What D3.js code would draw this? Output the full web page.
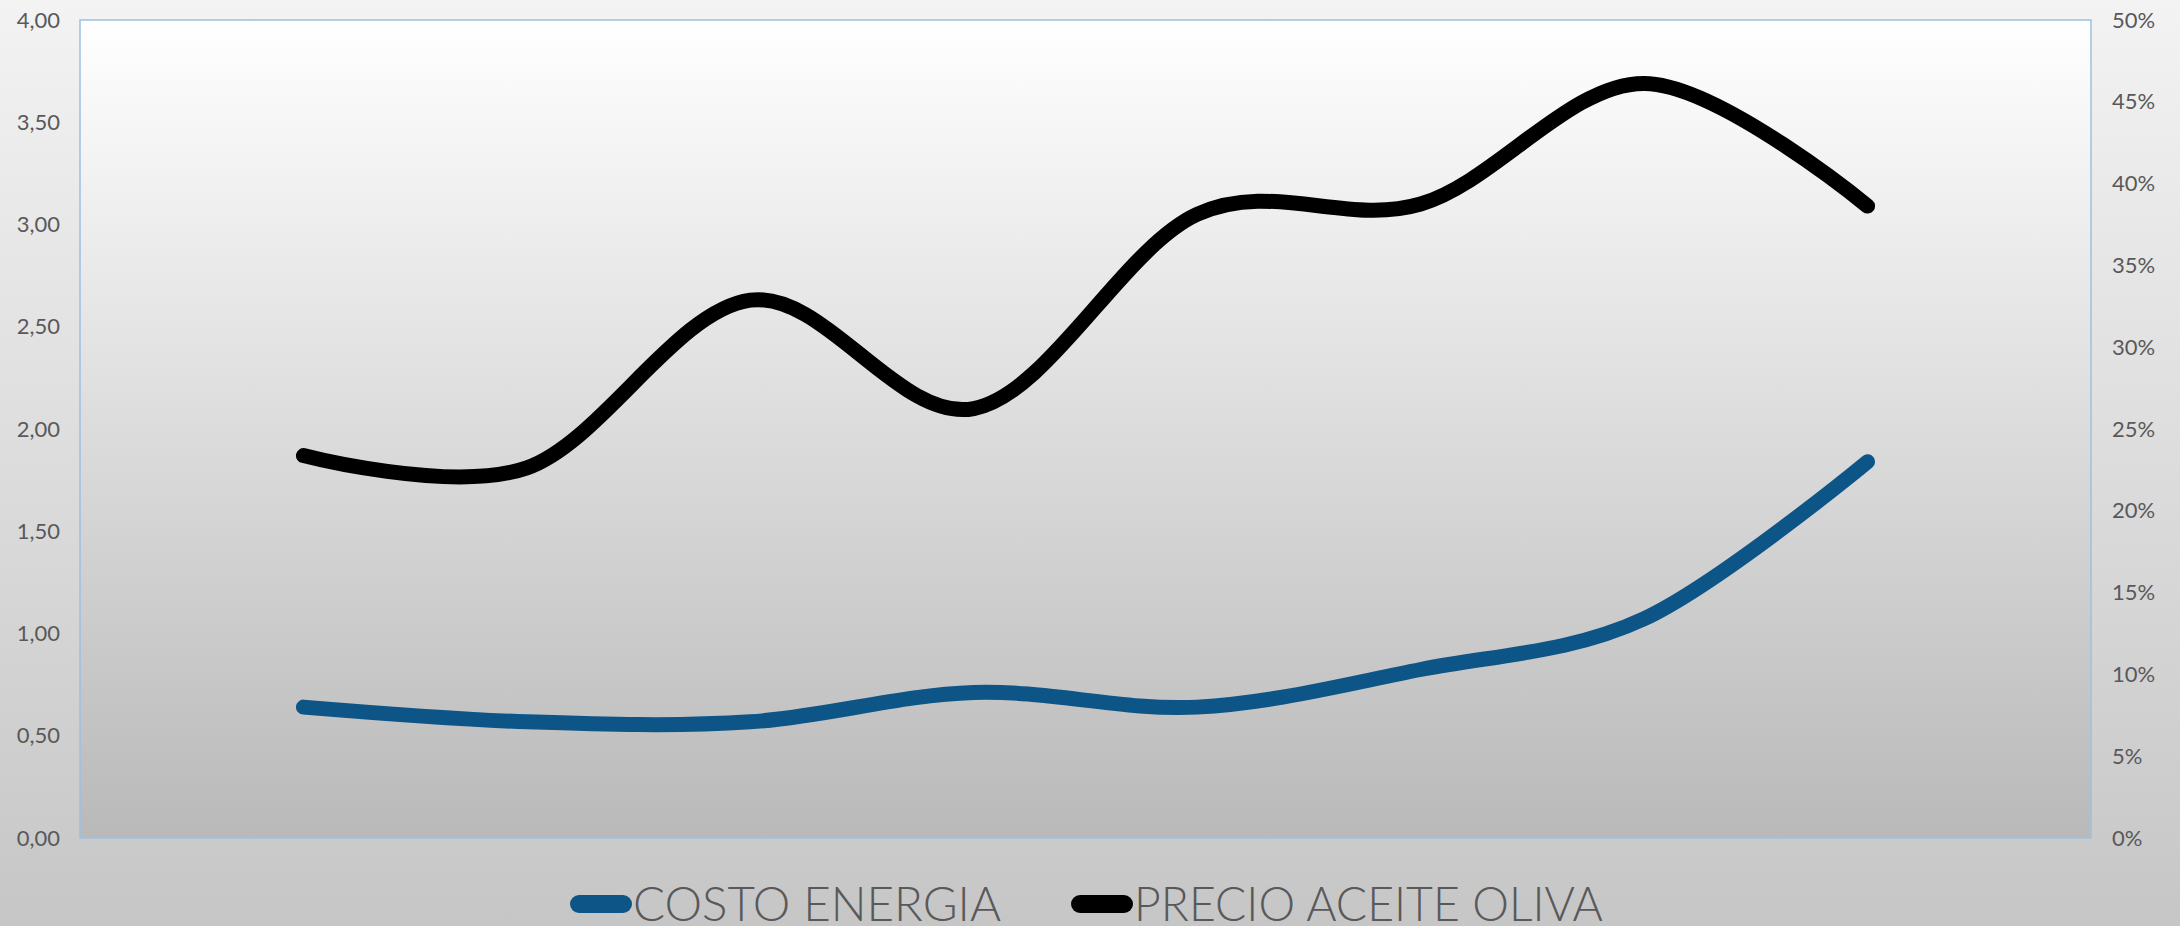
<!DOCTYPE html>
<html>
<head>
<meta charset="utf-8">
<script src="https://cdn.jsdelivr.net/npm/d3@7"></script>
<style>
  body { margin: 0; padding: 0; overflow: hidden; }
  svg { display: block; }
</style>
</head>
<body>
<svg></svg>
<script>
// categories (no labels shown on the chart)
const categories = ['1', '2', '3', '4', '5', '6', '7', '8']
// precio aceite oliva, left axis
const precioAceite = [1.87, 1.81, 2.63, 2.10, 3.05, 3.10, 3.69, 3.09]
// costo energia, right axis (%)
const costoEnergia = [8.0, 7.1, 7.1, 8.9, 8.0, 10.3, 13.4, 23.0]
const leftTicks = [0, 0.5, 1, 1.5, 2, 2.5, 3, 3.5, 4]
const rightTicks = [0, 5, 10, 15, 20, 25, 30, 35, 40, 45, 50]
const seriesNames = ['COSTO ENERGIA', 'PRECIO ACEITE OLIVA']

const svgWidth = 2180
const svgHeight = 926
const plot = { left: 80, right: 2091, top: 20, bottom: 838 }

const svg = d3.select('svg')
.attr('width', svgWidth)
.attr('height', svgHeight)

// backgrounds
const defs = svg.append('defs')
const bgGrad = defs.append('linearGradient').attr('id', 'bg')
.attr('x1', 0).attr('y1', 0).attr('x2', 0).attr('y2', 1)
bgGrad.append('stop').attr('offset', '0%').attr('stop-color', '#f3f3f3')
bgGrad.append('stop').attr('offset', '100%').attr('stop-color', '#c6c6c6')
const plotGrad = defs.append('linearGradient').attr('id', 'plotbg')
.attr('x1', 0).attr('y1', 0).attr('x2', 0).attr('y2', 1)
plotGrad.append('stop').attr('offset', '0%').attr('stop-color', '#ffffff')
plotGrad.append('stop').attr('offset', '100%').attr('stop-color', '#b9b9b9')

svg.append('rect').attr('width', svgWidth).attr('height', svgHeight).attr('fill', 'url(#bg)')
svg.append('rect')
.attr('x', plot.left).attr('y', plot.top)
.attr('width', plot.right - plot.left).attr('height', plot.bottom - plot.top)
.attr('fill', 'url(#plotbg)')
.attr('stroke', '#9fc0e2')
.attr('stroke-width', 1.5)

// scales
const xScale = d3.scalePoint()
.domain(categories)
.range([plot.left, plot.right])
.padding(1)

const yLeft = d3.scaleLinear()
.domain([0, 4])
.range([plot.bottom, plot.top])

const yRight = d3.scaleLinear()
.domain([0, 50])
.range([plot.bottom, plot.top])

// axes
const fmtLeft = d => d3.format('.2f')(d).replace('.', ',')
const leftAxis = d3.axisLeft(yLeft).tickValues(leftTicks).tickSize(0).tickPadding(20).tickFormat(fmtLeft)
const rightAxis = d3.axisRight(yRight).tickValues(rightTicks).tickSize(0).tickPadding(21).tickFormat(d => d + '%')

const gl = svg.append('g').attr('transform', 'translate(' + plot.left + ',0)').call(leftAxis)
const gr = svg.append('g').attr('transform', 'translate(' + plot.right + ',0)').call(rightAxis)
;[gl, gr].forEach(g => {
  g.select('.domain').remove()
  g.selectAll('text')
  .attr('font-family', 'Lato, sans-serif')
  .attr('font-size', 22)
  .attr('fill', '#595959')
})

// lines
const curve = d3.curveCardinal.tension(0)
const lineLeft = d3.line()
.x((d, i) => xScale(categories[i]))
.y(d => yLeft(d))
.curve(curve)
const lineRight = d3.line()
.x((d, i) => xScale(categories[i]))
.y(d => yRight(d))
.curve(curve)

svg.append('path')
.attr('d', lineRight(costoEnergia))
.attr('fill', 'none')
.attr('stroke', '#0c5586')
.attr('stroke-width', 15)
.attr('stroke-linecap', 'round')
.attr('stroke-linejoin', 'round')

svg.append('path')
.attr('d', lineLeft(precioAceite))
.attr('fill', 'none')
.attr('stroke', '#000000')
.attr('stroke-width', 15)
.attr('stroke-linecap', 'round')
.attr('stroke-linejoin', 'round')

// legend
const legendItems = [
  { name: seriesNames[0], color: '#0c5586', x: 570, textLen: 368 },
  { name: seriesNames[1], color: '#000000', x: 1071, textLen: 469 }
]
const legend = svg.append('g')
legend.selectAll('line')
.data(legendItems)
.enter()
.append('line')
.attr('x1', d => d.x + 9).attr('x2', d => d.x + 53)
.attr('y1', 904).attr('y2', 904)
.attr('stroke', d => d.color)
.attr('stroke-width', 18)
.attr('stroke-linecap', 'round')
legend.selectAll('text')
.data(legendItems)
.enter()
.append('text')
.attr('x', d => d.x + 63)
.attr('y', 921)
.attr('font-family', 'Lato, sans-serif')
.attr('font-weight', 300)
.attr('font-size', 48)
.attr('fill', '#595959')
.attr('textLength', d => d.textLen)
.attr('lengthAdjust', 'spacingAndGlyphs')
.text(d => d.name)
</script>
</body>
</html>
